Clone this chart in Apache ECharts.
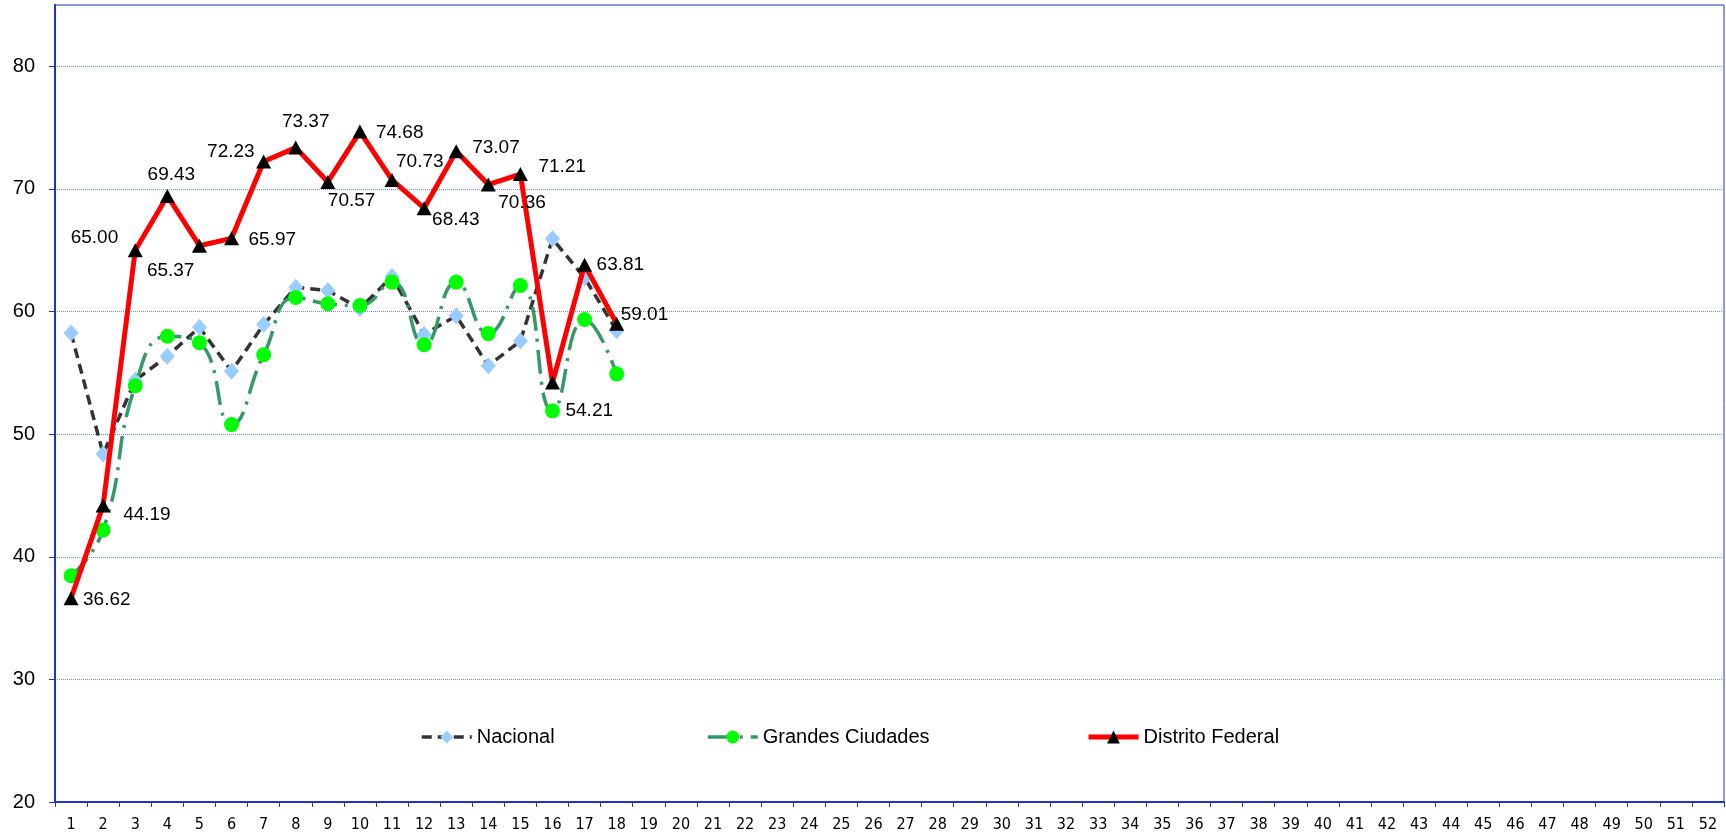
<!DOCTYPE html>
<html>
<head>
<meta charset="utf-8">
<script src="https://cdn.jsdelivr.net/npm/echarts@6/dist/echarts.min.js"></script>
<style>
html,body{margin:0;padding:0;background:#fff;}
#chart{width:1726px;height:834px;}
</style>
</head>
<body>
<div id="chart"></div>
<script>
// ---- data ----
const weeks = Array.from({length: 52}, (_, i) => String(i + 1));
const nacional = [58.25, 48.38, 54.40, 56.36, 58.72, 55.13, 58.94, 61.99, 61.71, 60.25, 62.86, 58.13, 59.65, 55.58, 57.60, 65.93, 62.75, 58.43];
const grandesCiudades = [38.45, 42.18, 53.95, 57.98, 57.45, 50.78, 56.47, 61.14, 60.63, 60.49, 62.40, 57.30, 62.40, 58.20, 62.12, 51.90, 59.35, 54.92];
const distritoFederal = [36.62, 44.19, 65.00, 69.43, 65.37, 65.97, 72.23, 73.37, 70.57, 74.68, 70.73, 68.43, 73.07, 70.36, 71.21, 54.21, 63.81, 59.01];
const seriesNames = ['Nacional', 'Grandes Ciudades', 'Distrito Federal'];
const yTicks = {min: 20, max: 85, interval: 10};

// ---- label placement (styling only): [dx, dy, align] relative to point ----
const dfLabelPlace = [
  [12, 2, 'left'], [20, 9, 'left'], [-17, -12, 'right'], [4, -21, 'center'],
  [-5, 25, 'right'], [17, 1, 'left'], [-9, -10, 'right'], [10, -26, 'center'],
  [0, 19, 'left'], [16, 1, 'left'], [4, -18, 'left'], [8, 12, 'left'],
  [16, -4, 'left'], [10, 18, 'left'], [18, -7, 'left'], [13, 28, 'left'],
  [12, 0, 'left'], [4, -9, 'left']
];

const FONT = '"Liberation Sans", Arial, sans-serif';
const chart = echarts.init(document.getElementById('chart'), null, {renderer: 'canvas'});

const dfData = distritoFederal.map((v, i) => ({
  value: v,
  label: {
    show: true,
    position: 'inside',
    align: dfLabelPlace[i][2],
    verticalAlign: 'middle',
    offset: [dfLabelPlace[i][0], dfLabelPlace[i][1]],
    formatter: (p) => p.value.toFixed(2)
  }
}));

const legendBase = {
  orient: 'horizontal',
  top: 727,
  padding: 0,
  itemWidth: 50,
  itemHeight: 16,
  itemGap: 0,
  textStyle: {fontFamily: FONT, fontSize: 20, color: '#000'},
  selectedMode: false
};

chart.setOption({
  animation: false,
  backgroundColor: '#fff',
  grid: {
    left: 55, right: 2, top: 5, bottom: 32,
    show: true, borderColor: '#2233CC', borderWidth: 1, backgroundColor: '#fff'
  },
  legend: [
    Object.assign({}, legendBase, {left: 420, data: [seriesNames[0]], lineStyle: {width: 3.5}}),
    Object.assign({}, legendBase, {left: 706, data: [seriesNames[1]], lineStyle: {width: 3.5}}),
    Object.assign({}, legendBase, {left: 1086, data: [seriesNames[2]], lineStyle: {width: 5}})
  ],
  xAxis: {
    type: 'category',
    data: weeks,
    boundaryGap: true,
    axisLine: {lineStyle: {color: '#2233CC', width: 2}},
    axisTick: {show: true, length: 5, interval: 0, lineStyle: {color: '#2233CC', width: 1}},
    axisLabel: {interval: 0, margin: 15, color: '#000', fontFamily: '"DejaVu Sans Condensed", "DejaVu Sans", sans-serif', fontSize: 16}
  },
  yAxis: {
    type: 'value',
    min: yTicks.min, max: yTicks.max, interval: yTicks.interval,
    axisLine: {show: true, lineStyle: {color: '#2233CC', width: 2}},
    axisTick: {show: true, length: 6, lineStyle: {color: '#2233CC', width: 1}},
    axisLabel: {color: '#000', fontFamily: FONT, fontSize: 20, margin: 20, showMaxLabel: false},
    splitLine: {show: true, lineStyle: {color: '#6F93D8', width: 1, type: [1, 1]}}
  },
  series: [
    {
      name: seriesNames[0],
      type: 'line',
      data: nacional,
      symbol: 'diamond',
      symbolSize: [15, 17],
      itemStyle: {color: '#99CCFF', borderWidth: 0},
      lineStyle: {color: '#333333', width: 3.5, type: [10, 6]},
      z: 2
    },
    {
      name: seriesNames[1],
      type: 'line',
      data: grandesCiudades,
      smooth: 0.5,
      symbol: 'circle',
      symbolSize: 15,
      itemStyle: {color: '#00FF00', borderWidth: 0},
      lineStyle: {color: '#339966', width: 3.5, type: [24, 8, 3, 8]},
      z: 3
    },
    {
      name: seriesNames[2],
      type: 'line',
      data: dfData,
      symbol: 'triangle',
      symbolSize: [15, 14],
      itemStyle: {color: '#000000', borderWidth: 0},
      lineStyle: {color: '#FF0000', width: 5},
      label: {color: '#000', fontFamily: FONT, fontSize: 19},
      z: 4
    }
  ]
});
</script>
</body>
</html>
